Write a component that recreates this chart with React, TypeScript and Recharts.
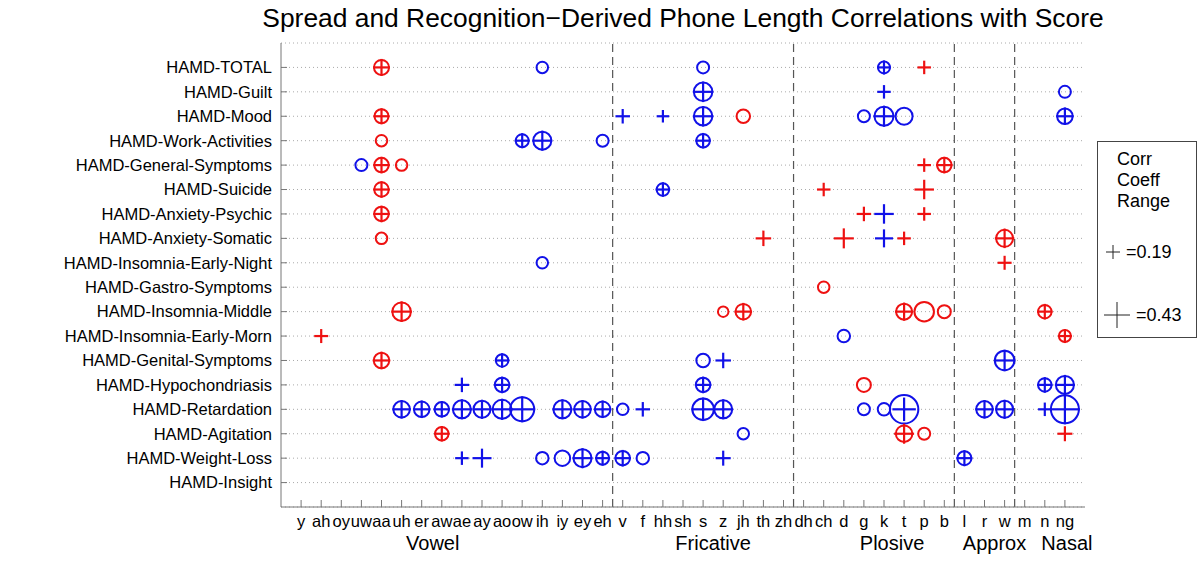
import { ScatterChart, Scatter, XAxis, YAxis, CartesianGrid, ReferenceLine } from 'recharts'

const phones = [
  'y', 'ah', 'oy', 'uw', 'aa', 'uh', 'er', 'aw', 'ae', 'ay', 'ao', 'ow', 'ih', 'iy', 'ey', 'eh',
  'v', 'f', 'hh', 'sh', 's', 'z', 'jh', 'th', 'zh',
  'dh', 'ch', 'd', 'g', 'k', 't', 'p', 'b',
  'l', 'r', 'w',
  'm', 'n', 'ng',
]
const groupNames = ['Vowel', 'Fricative', 'Plosive', 'Approx', 'Nasal']
const groupSizes = [16, 9, 8, 3, 3]
const groupLabelAt = [7.55, 21.5, 30.4, 35.5, 39.1]

const items = [
  'HAMD-TOTAL', 'HAMD-Guilt', 'HAMD-Mood', 'HAMD-Work-Activities', 'HAMD-General-Symptoms',
  'HAMD-Suicide', 'HAMD-Anxiety-Psychic', 'HAMD-Anxiety-Somatic', 'HAMD-Insomnia-Early-Night',
  'HAMD-Gastro-Symptoms', 'HAMD-Insomnia-Middle', 'HAMD-Insomnia-Early-Morn', 'HAMD-Genital-Symptoms',
  'HAMD-Hypochondriasis', 'HAMD-Retardation', 'HAMD-Agitation', 'HAMD-Weight-Loss', 'HAMD-Insight',
]

// spread correlations (circles): [item, phone, r]
const spreadCorr: [string, string, number][] = [
  ['HAMD-TOTAL', 'aa', 0.25], ['HAMD-TOTAL', 'ih', -0.18], ['HAMD-TOTAL', 's', -0.19], ['HAMD-TOTAL', 'k', -0.19],
  ['HAMD-Guilt', 's', -0.32], ['HAMD-Guilt', 'ng', -0.19],
  ['HAMD-Mood', 'aa', 0.23], ['HAMD-Mood', 's', -0.32], ['HAMD-Mood', 'jh', 0.22], ['HAMD-Mood', 'g', -0.19],
  ['HAMD-Mood', 'k', -0.33], ['HAMD-Mood', 't', -0.29], ['HAMD-Mood', 'ng', -0.26],
  ['HAMD-Work-Activities', 'aa', 0.18], ['HAMD-Work-Activities', 'ow', -0.21], ['HAMD-Work-Activities', 'ih', -0.31],
  ['HAMD-Work-Activities', 'eh', -0.19], ['HAMD-Work-Activities', 's', -0.22],
  ['HAMD-General-Symptoms', 'uw', -0.19], ['HAMD-General-Symptoms', 'aa', 0.24], ['HAMD-General-Symptoms', 'uh', 0.18],
  ['HAMD-General-Symptoms', 'b', 0.24],
  ['HAMD-Suicide', 'aa', 0.24], ['HAMD-Suicide', 'hh', -0.2],
  ['HAMD-Anxiety-Psychic', 'aa', 0.24],
  ['HAMD-Anxiety-Somatic', 'aa', 0.18], ['HAMD-Anxiety-Somatic', 'w', 0.29],
  ['HAMD-Insomnia-Early-Night', 'ih', -0.18],
  ['HAMD-Gastro-Symptoms', 'ch', 0.18],
  ['HAMD-Insomnia-Middle', 'uh', 0.32], ['HAMD-Insomnia-Middle', 'z', 0.16], ['HAMD-Insomnia-Middle', 'jh', 0.26],
  ['HAMD-Insomnia-Middle', 't', 0.27], ['HAMD-Insomnia-Middle', 'p', 0.34], ['HAMD-Insomnia-Middle', 'b', 0.21],
  ['HAMD-Insomnia-Middle', 'n', 0.22],
  ['HAMD-Insomnia-Early-Morn', 'd', -0.2], ['HAMD-Insomnia-Early-Morn', 'ng', 0.19],
  ['HAMD-Genital-Symptoms', 'aa', 0.26], ['HAMD-Genital-Symptoms', 'ao', -0.2], ['HAMD-Genital-Symptoms', 's', -0.22],
  ['HAMD-Genital-Symptoms', 'w', -0.34],
  ['HAMD-Hypochondriasis', 'ao', -0.24], ['HAMD-Hypochondriasis', 's', -0.24], ['HAMD-Hypochondriasis', 'g', 0.23],
  ['HAMD-Hypochondriasis', 'n', -0.22], ['HAMD-Hypochondriasis', 'ng', -0.31],
  ['HAMD-Retardation', 'uh', -0.28], ['HAMD-Retardation', 'er', -0.26], ['HAMD-Retardation', 'aw', -0.24],
  ['HAMD-Retardation', 'ae', -0.31], ['HAMD-Retardation', 'ay', -0.29], ['HAMD-Retardation', 'ao', -0.33],
  ['HAMD-Retardation', 'ow', -0.43], ['HAMD-Retardation', 'iy', -0.31], ['HAMD-Retardation', 'ey', -0.28],
  ['HAMD-Retardation', 'eh', -0.26], ['HAMD-Retardation', 'v', -0.18], ['HAMD-Retardation', 's', -0.38],
  ['HAMD-Retardation', 'z', -0.31], ['HAMD-Retardation', 'g', -0.19], ['HAMD-Retardation', 'k', -0.2],
  ['HAMD-Retardation', 't', -0.52], ['HAMD-Retardation', 'r', -0.28], ['HAMD-Retardation', 'w', -0.29],
  ['HAMD-Retardation', 'ng', -0.51],
  ['HAMD-Agitation', 'aw', 0.22], ['HAMD-Agitation', 'jh', -0.18], ['HAMD-Agitation', 't', 0.28], ['HAMD-Agitation', 'p', 0.19],
  ['HAMD-Weight-Loss', 'ih', -0.2], ['HAMD-Weight-Loss', 'iy', -0.26], ['HAMD-Weight-Loss', 'ey', -0.31],
  ['HAMD-Weight-Loss', 'eh', -0.21], ['HAMD-Weight-Loss', 'v', -0.24], ['HAMD-Weight-Loss', 'f', -0.2],
  ['HAMD-Weight-Loss', 'l', -0.23],
]

// recognition-derived phone length correlations (plus signs): [item, phone, r]
const lengthCorr: [string, string, number][] = [
  ['HAMD-TOTAL', 'aa', 0.25], ['HAMD-TOTAL', 'k', -0.19], ['HAMD-TOTAL', 'p', 0.18],
  ['HAMD-Guilt', 's', -0.32], ['HAMD-Guilt', 'k', -0.18],
  ['HAMD-Mood', 'aa', 0.23], ['HAMD-Mood', 'v', -0.2], ['HAMD-Mood', 'hh', -0.16], ['HAMD-Mood', 's', -0.32],
  ['HAMD-Mood', 'k', -0.33], ['HAMD-Mood', 'ng', -0.26],
  ['HAMD-Work-Activities', 'ow', -0.21], ['HAMD-Work-Activities', 'ih', -0.31], ['HAMD-Work-Activities', 's', -0.22],
  ['HAMD-General-Symptoms', 'aa', 0.24], ['HAMD-General-Symptoms', 'p', 0.18], ['HAMD-General-Symptoms', 'b', 0.24],
  ['HAMD-Suicide', 'aa', 0.24], ['HAMD-Suicide', 'hh', -0.2], ['HAMD-Suicide', 'ch', 0.18], ['HAMD-Suicide', 'p', 0.3],
  ['HAMD-Anxiety-Psychic', 'aa', 0.24], ['HAMD-Anxiety-Psychic', 'g', 0.2], ['HAMD-Anxiety-Psychic', 'k', -0.3],
  ['HAMD-Anxiety-Psychic', 'p', 0.18],
  ['HAMD-Anxiety-Somatic', 'th', 0.22], ['HAMD-Anxiety-Somatic', 'd', 0.31], ['HAMD-Anxiety-Somatic', 'k', -0.27],
  ['HAMD-Anxiety-Somatic', 't', 0.18], ['HAMD-Anxiety-Somatic', 'w', 0.3],
  ['HAMD-Insomnia-Early-Night', 'w', 0.19],
  ['HAMD-Insomnia-Middle', 'uh', 0.32], ['HAMD-Insomnia-Middle', 'jh', 0.26], ['HAMD-Insomnia-Middle', 't', 0.27],
  ['HAMD-Insomnia-Middle', 'n', 0.22],
  ['HAMD-Insomnia-Early-Morn', 'ah', 0.19], ['HAMD-Insomnia-Early-Morn', 'ng', 0.19],
  ['HAMD-Genital-Symptoms', 'aa', 0.26], ['HAMD-Genital-Symptoms', 'ao', -0.2], ['HAMD-Genital-Symptoms', 'z', -0.22],
  ['HAMD-Genital-Symptoms', 'w', -0.34],
  ['HAMD-Hypochondriasis', 'ae', -0.2], ['HAMD-Hypochondriasis', 'ao', -0.24], ['HAMD-Hypochondriasis', 's', -0.24],
  ['HAMD-Hypochondriasis', 'n', -0.22], ['HAMD-Hypochondriasis', 'ng', -0.31],
  ['HAMD-Retardation', 'uh', -0.28], ['HAMD-Retardation', 'er', -0.26], ['HAMD-Retardation', 'aw', -0.24],
  ['HAMD-Retardation', 'ae', -0.31], ['HAMD-Retardation', 'ay', -0.29], ['HAMD-Retardation', 'ao', -0.33],
  ['HAMD-Retardation', 'ow', -0.43], ['HAMD-Retardation', 'iy', -0.31], ['HAMD-Retardation', 'ey', -0.28],
  ['HAMD-Retardation', 'eh', -0.26], ['HAMD-Retardation', 'f', -0.2], ['HAMD-Retardation', 's', -0.38],
  ['HAMD-Retardation', 'z', -0.31], ['HAMD-Retardation', 't', -0.38], ['HAMD-Retardation', 'r', -0.28],
  ['HAMD-Retardation', 'w', -0.29], ['HAMD-Retardation', 'n', -0.18], ['HAMD-Retardation', 'ng', -0.51],
  ['HAMD-Agitation', 'aw', 0.22], ['HAMD-Agitation', 't', 0.31], ['HAMD-Agitation', 'ng', 0.21],
  ['HAMD-Weight-Loss', 'ae', -0.18], ['HAMD-Weight-Loss', 'ay', -0.29], ['HAMD-Weight-Loss', 'ey', -0.31],
  ['HAMD-Weight-Loss', 'eh', -0.21], ['HAMD-Weight-Loss', 'v', -0.24], ['HAMD-Weight-Loss', 'z', -0.21],
  ['HAMD-Weight-Loss', 'l', -0.23],
]

const legendValues = [0.19, 0.43]

const RED = '#ee1111'
const BLUE = '#1111e8'
const FONT = '"Liberation Sans", Arial, Helvetica, sans-serif'

// marker half-size in px for a correlation value
const sizeOf = (r: number) => 2.25 + 25 * Math.abs(r)

const toPoints = (rows: [string, string, number][]) =>
  rows.map(([item, ph, r]) => ({ x: phones.indexOf(ph) + 1, y: items.indexOf(item) + 1, r }))

const spreadPoints = toPoints(spreadCorr)
const lengthPoints = toPoints(lengthCorr)

const phoneTicks = phones.map((_, i) => i + 1)
const itemTicks = items.map((_, i) => i + 1)

// divider positions between phone groups
const dividers: number[] = []
groupSizes.reduce((acc, n, i) => {
  if (i < groupSizes.length - 1) dividers.push(acc + n + 0.5)
  return acc + n
}, 0)

function Ring(props: any) {
  const { cx, cy, payload } = props
  if (cx == null) return null
  return (
    <circle
      cx={cx}
      cy={cy}
      r={sizeOf(payload.r) - 1}
      fill="none"
      stroke={payload.r > 0 ? RED : BLUE}
      strokeWidth={2}
    />
  )
}

function Cross(props: any) {
  const { cx, cy, payload } = props
  if (cx == null) return null
  const h = sizeOf(payload.r)
  return (
    <g stroke={payload.r > 0 ? RED : BLUE} strokeWidth={2.2}>
      <line x1={cx - h} y1={cy} x2={cx + h} y2={cy} />
      <line x1={cx} y1={cy - h} x2={cx} y2={cy + h} />
    </g>
  )
}

function PhoneTick(props: any) {
  const { x, y, payload } = props
  return (
    <g>
      <line x1={x} y1={y - 8} x2={x} y2={y - 15} stroke="#777" strokeWidth={1} />
      <text x={x} y={y} dy="0.71em" textAnchor="middle" fontSize={16.5} fill="#000" fontFamily={FONT}>
        {phones[payload.value - 1]}
      </text>
    </g>
  )
}

function ItemTick(props: any) {
  const { x, y, payload } = props
  return (
    <g>
      <line x1={x + 9} y1={y} x2={x + 15} y2={y} stroke="#777" strokeWidth={1} />
      <text x={x} y={y} dy="0.355em" textAnchor="end" fontSize={16.5} fill="#000" fontFamily={FONT}>
        {items[payload.value - 1]}
      </text>
    </g>
  )
}

function LegendBox() {
  return (
    <svg
      width={104}
      height={200}
      style={{ position: 'absolute', left: 1095, top: 139, fontFamily: FONT }}
    >
      <rect x={2.5} y={2.5} width={99} height={196} fill="#fff" stroke="#444" strokeWidth={1} />
      <text x={22} y={26} fontSize={18}>Corr</text>
      <text x={22} y={47} fontSize={18}>Coeff</text>
      <text x={22} y={68} fontSize={18}>Range</text>
      {legendValues.map((v, i) => {
        const cx = i === 0 ? 18 : 22
        const cy = i === 0 ? 113 : 176
        const h = i === 0 ? 7 : 13
        return (
          <g key={v}>
            <g stroke="#222" strokeWidth={1}>
              <line x1={cx - h} y1={cy} x2={cx + h} y2={cy} />
              <line x1={cx} y1={cy - h} x2={cx} y2={cy + h} />
            </g>
            <text x={cx + h + 6} y={cy + 6} fontSize={18}>={v.toFixed(2)}</text>
          </g>
        )
      })}
    </svg>
  )
}

export default function App() {
  return (
    <div style={{ position: 'absolute', left: 0, top: 0, width: 1200, height: 570, background: '#fff' }}>
      <div
        style={{
          position: 'absolute',
          left: 183,
          width: 1000,
          top: 3,
          textAlign: 'center',
          fontFamily: FONT,
          fontSize: 26.4,
          color: '#000',
          whiteSpace: 'nowrap',
        }}
      >
        Spread and Recognition−Derived Phone Length Correlations with Score
      </div>
      <ScatterChart width={1200} height={570} margin={{ top: 43, right: 115, bottom: 43, left: 11 }}>
        <CartesianGrid vertical={false} stroke="#aaa" strokeDasharray="1 3" />
        <XAxis
          type="number"
          dataKey="x"
          domain={[0, 40]}
          ticks={phoneTicks}
          interval={0}
          height={20}
          tickSize={0}
          tickMargin={8}
          tickLine={false}
          axisLine={{ stroke: '#777' }}
          tick={<PhoneTick />}
        />
        <YAxis
          type="number"
          dataKey="y"
          domain={[0, 19]}
          reversed
          ticks={itemTicks}
          interval={0}
          width={270}
          tickSize={0}
          tickMargin={9}
          tickLine={false}
          axisLine={{ stroke: '#777' }}
          tick={<ItemTick />}
        />
        {dividers.map((d) => (
          <ReferenceLine key={d} x={d} stroke="#555" strokeWidth={1.2} strokeDasharray="8 5" />
        ))}
        {groupLabelAt.map((g, i) => (
          <ReferenceLine
            key={groupNames[i]}
            x={g}
            stroke="none"
            label={{
              value: groupNames[i],
              position: 'bottom',
              offset: 29,
              fontSize: 20,
              fill: '#000',
              fontFamily: FONT,
            }}
          />
        ))}
        <Scatter data={spreadPoints} shape={<Ring />} isAnimationActive={false} />
        <Scatter data={lengthPoints} shape={<Cross />} isAnimationActive={false} />
      </ScatterChart>
      <LegendBox />
    </div>
  )
}
